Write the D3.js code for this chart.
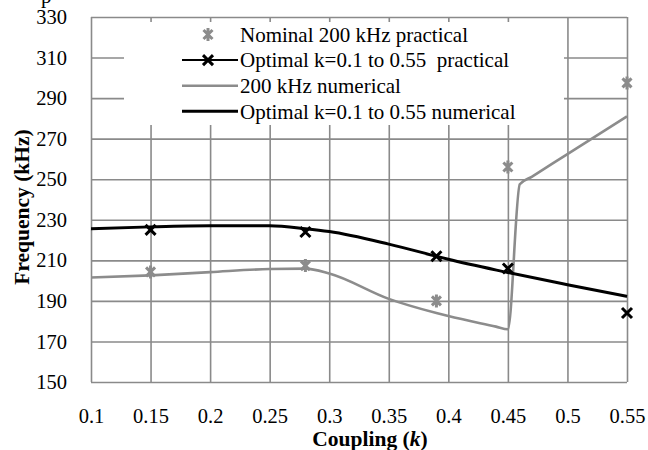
<!DOCTYPE html>
<html>
<head>
<meta charset="utf-8">
<script src="https://cdn.jsdelivr.net/npm/d3@7"></script>
<style>
  body { margin: 0; background: #fff; }
</style>
</head>
<body>
<svg id="chart" width="648" height="450"></svg>
<script>
// tick values
const kTicks = [0.1, 0.15, 0.2, 0.25, 0.3, 0.35, 0.4, 0.45, 0.5, 0.55];
const freqTicks = [150, 170, 190, 210, 230, 250, 270, 290, 310, 330];

// practical measurements
const practicalK = [0.15, 0.28, 0.39, 0.45, 0.55];
const nominalPractical = [204.3, 207.4, 190, 256, 297.5];
const optimalPractical = [225, 224, 212, 206, 184];

// numerical results
const nominalNumK = [0.1, 0.15, 0.2, 0.25, 0.28, 0.3, 0.35, 0.39, 0.4, 0.44, 0.45, 0.46, 0.47, 0.5, 0.55];
const nominalNumerical = [201.5, 202.6, 204.2, 205.7, 205.9, 203.5, 191, 184, 182.5, 177.3, 176, 247.5, 251.2, 262.4, 281];
const optimalNumK = [0.1, 0.15, 0.2, 0.25, 0.28, 0.3, 0.35, 0.39, 0.4, 0.45, 0.5, 0.55];
const optimalNumerical = [225.6, 226.5, 227, 227, 225.6, 224.2, 218, 212, 210.5, 204, 198, 192.2];

const legendLabels = [
  "Nominal 200 kHz practical",
  "Optimal k=0.1 to 0.55  practical",
  "200 kHz numerical",
  "Optimal k=0.1 to 0.55 numerical"
];

const serif = "'Liberation Serif', 'Times New Roman', Times, serif";
const gridColor = "#8a8a8a", grayLine = "#8c8c8c";

const svg = d3.select("#chart"),
      margin = {top: 17, right: 21, bottom: 68, left: 91},
      width = +svg.attr("width") - margin.left - margin.right,
      height = +svg.attr("height") - margin.top - margin.bottom;

svg.append("rect").attr("width", 648).attr("height", 450).attr("fill", "#fff");

const g = svg.append("g").attr("transform", `translate(${margin.left},${margin.top})`);

const x = d3.scaleLinear().domain([0.1, 0.55]).range([0, width]);
const y = d3.scaleLinear().domain([150, 330]).range([height, 0]);

// x axis + vertical gridlines
const xAxis = g.append("g")
  .attr("transform", `translate(0,${height})`)
  .call(d3.axisBottom(x).tickValues(kTicks).tickFormat(d => String(d))
        .tickSize(-height).tickPadding(26.5));
xAxis.select(".domain").remove();
xAxis.selectAll("line").attr("stroke", gridColor).attr("stroke-width", 1.6);
xAxis.selectAll("text").style("font-family", serif).style("font-size", "20.5px").attr("fill", "#000");

// y axis + horizontal gridlines
const yAxis = g.append("g")
  .call(d3.axisLeft(y).tickValues(freqTicks).tickFormat(d3.format("d"))
        .tickSize(-width).tickPadding(24));
yAxis.select(".domain").remove();
yAxis.selectAll("line").attr("stroke", gridColor).attr("stroke-width", 1.6);
yAxis.selectAll("text").style("font-family", serif).style("font-size", "20.5px").attr("fill", "#000");

// numerical curves
const lineOf = ks => d3.line()
  .x((d, i) => x(ks[i]))
  .y(d => y(d))
  .curve(d3.curveMonotoneX);

g.append("path")
  .attr("d", lineOf(nominalNumK)(nominalNumerical))
  .attr("fill", "none").attr("stroke", grayLine).attr("stroke-width", 2.6);

g.append("path")
  .attr("d", lineOf(optimalNumK)(optimalNumerical))
  .attr("fill", "none").attr("stroke", "#000").attr("stroke-width", 3);

// markers
const starPath = "M-4.5,-4.5L4.5,4.5M-4.5,4.5L4.5,-4.5M0,-6.5L0,-2M0,2L0,6.5";
const crossPath = "M-5,-5L5,5M-5,5L5,-5";

g.selectAll("path.nominal")
  .data(nominalPractical)
  .enter().append("path")
    .attr("class", "nominal")
    .attr("transform", (d, i) => `translate(${x(practicalK[i])},${y(d)})`)
    .attr("d", starPath)
    .attr("stroke", grayLine).attr("stroke-width", 3).attr("fill", "none");

g.selectAll("path.optimal")
  .data(optimalPractical)
  .enter().append("path")
    .attr("class", "optimal")
    .attr("transform", (d, i) => `translate(${x(practicalK[i])},${y(d)})`)
    .attr("d", crossPath)
    .attr("stroke", "#000").attr("stroke-width", 3).attr("fill", "none");

// legend
const legend = svg.append("g");
legend.append("rect")
  .attr("x", 124).attr("y", 22).attr("width", 440).attr("height", 103)
  .attr("fill", "#fff");

const rowY = i => 34.5 + i * 25.6;
legendLabels.forEach((label, i) => {
  const row = legend.append("g").attr("transform", `translate(0,${rowY(i)})`);
  if (i > 0) {
    row.append("line")
      .attr("x1", 182).attr("x2", 238)
      .attr("stroke", i === 2 ? grayLine : "#000")
      .attr("stroke-width", i === 1 ? 2 : (i === 2 ? 2.6 : 3));
  }
  if (i === 0) {
    row.append("path").attr("transform", "translate(208,0)").attr("d", starPath)
      .attr("stroke", grayLine).attr("stroke-width", 3).attr("fill", "none");
  }
  if (i === 1) {
    row.append("path").attr("transform", "translate(208,0)").attr("d", crossPath)
      .attr("stroke", "#000").attr("stroke-width", 3).attr("fill", "none");
  }
  row.append("text")
    .attr("x", 240).attr("dy", "0.35em")
    .style("font-family", serif)
    .style("font-size", "21px")
    .style("white-space", "pre")
    .text(label);
});

// axis titles
const xt = svg.append("text")
  .attr("x", 370).attr("y", 445.5)
  .attr("text-anchor", "middle")
  .style("font-family", serif)
  .style("font-size", "21.5px").style("font-weight", "bold");
xt.append("tspan").text("Coupling (");
xt.append("tspan").style("font-style", "italic").text("k");
xt.append("tspan").text(")");

svg.append("text")
  .attr("transform", "translate(29,207) rotate(-90)")
  .attr("text-anchor", "middle")
  .style("font-family", serif)
  .style("font-size", "21.5px").style("font-weight", "bold")
  .text("Frequency (kHz)");

// cut-off text at the very top
svg.append("text")
  .attr("x", 41).attr("y", 3)
  .style("font-family", serif)
  .style("font-size", "21px")
  .text("p");
</script>
</body>
</html>
